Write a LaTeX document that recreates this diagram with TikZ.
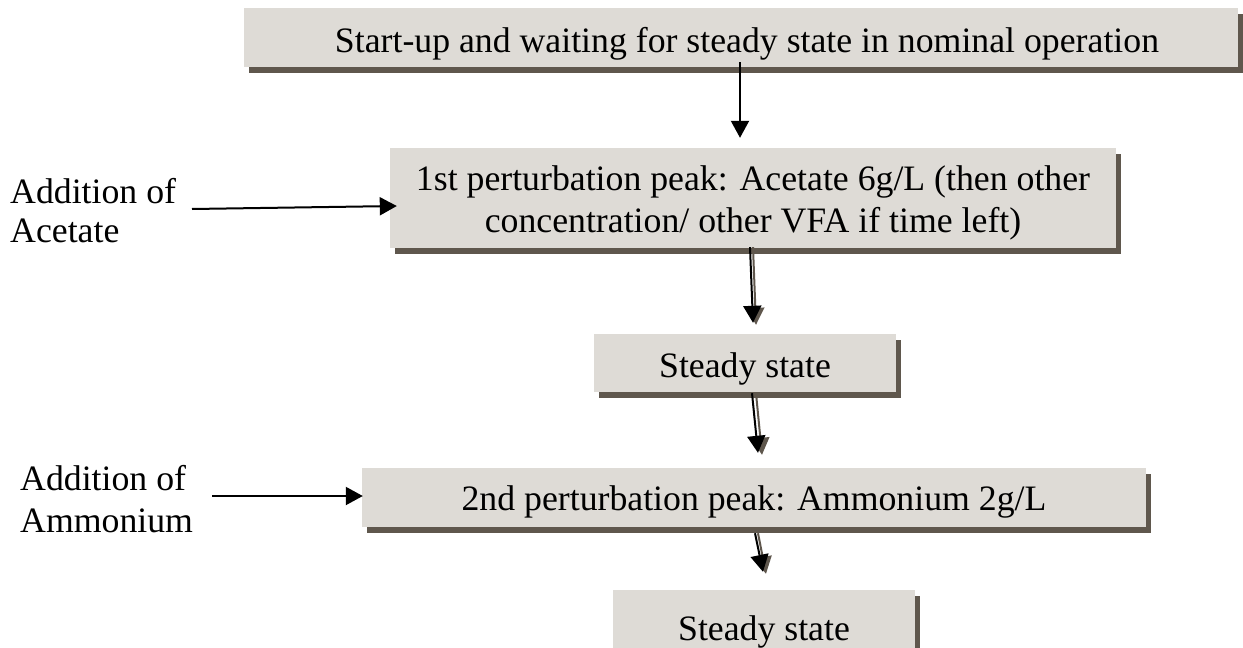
\documentclass[tikz,border=0pt]{standalone}
\usepackage{fontspec}
\setmainfont{Liberation Serif}
\usetikzlibrary{arrows.meta,shadows}
\definecolor{boxfill}{RGB}{222,219,214}
\definecolor{shadowc}{RGB}{95,87,77}
\tikzset{
  stagebox/.style={fill=boxfill, draw=none, inner sep=0pt,
    drop shadow={shadow xshift=5pt, shadow yshift=-6pt, fill=shadowc, opacity=1}},
  txt/.style={inner sep=0pt, font=\fontsize{35.75pt}{41pt}\selectfont},
  flow/.style={line width=2pt, -{Triangle[length=17pt,width=18pt]}},
  flowshade/.style={flow, draw=shadowc, color=shadowc},
}
\begin{document}
\begin{tikzpicture}[x=1pt, y=-1pt]
\useasboundingbox (0,0) rectangle (1243,648);
\clip (0,0) rectangle (1243,648);

% stage boxes
\node[stagebox, minimum width=994pt, minimum height=59pt]  (b1) at (741,37.5) {};
\node[stagebox, minimum width=726pt, minimum height=100pt] (b2) at (753,198) {};
\node[stagebox, minimum width=302pt, minimum height=58pt]  (b3) at (745,363) {};
\node[stagebox, minimum width=784pt, minimum height=59pt]  (b4) at (754,497.5) {};
\node[stagebox, minimum width=302pt, minimum height=70pt]  (b5) at (764,625) {};

% box texts
\node[txt, anchor=base] (t1) at (747,52) {Start-up and waiting for steady state in nominal operation};
\node[txt, anchor=base] (t2) at (753,190) {\begin{tabular}[t]{@{}c@{}}1st perturbation peak: Acetate 6g/L (then other\\[1pt] concentration/ other VFA if time left)\end{tabular}};
\node[txt, anchor=base] (t3) at (745,377) {Steady state};
\node[txt, anchor=base] (t4) at (754,510) {2nd perturbation peak: Ammonium 2g/L};
\node[txt, anchor=base] (t5) at (764,640) {Steady state};

% side labels
\node[txt, anchor=base west] (la) at (10,203) {\begin{tabular}[t]{@{}l@{}}Addition of\\[-2pt] Acetate\end{tabular}};
\node[txt, anchor=base west] (lb) at (20,490) {\begin{tabular}[t]{@{}l@{}}Addition of\\[1pt] Ammonium\end{tabular}};
\coordinate (la-out) at (192,209);
\coordinate (lb-out) at (212,496);

% side arrows
\draw[flow] (la-out) -- ([xshift=7pt, yshift=-8pt]b2.west);
\draw[flow] (lb-out) -- ([xshift=1pt, yshift=1.5pt]b4.west);

% main flow arrows
\draw[flow] ([xshift=-1pt, yshift=5pt]b1.south) -- ([xshift=-13pt, yshift=10pt]b2.north);

\draw[flowshade] ([xshift=0pt, yshift=1pt]b2.south) -- ([xshift=11pt, yshift=9pt]b3.north);
\draw[flow] ([xshift=-3pt, yshift=1pt]b2.south) -- ([xshift=8pt, yshift=11pt]b3.north);

\draw[flowshade] ([xshift=11pt, yshift=-1pt]b3.south) -- ([xshift=8pt, yshift=13pt]b4.north);
\draw[flow] ([xshift=7pt, yshift=-1pt]b3.south) -- ([xshift=4pt, yshift=15pt]b4.north);

\draw[flowshade] ([xshift=4pt, yshift=-6pt]b4.south) -- ([xshift=2pt, yshift=16pt]b5.north);
\draw[flow] ([xshift=1pt, yshift=-6pt]b4.south) -- ([xshift=-1pt, yshift=18pt]b5.north);
\end{tikzpicture}
\end{document}
